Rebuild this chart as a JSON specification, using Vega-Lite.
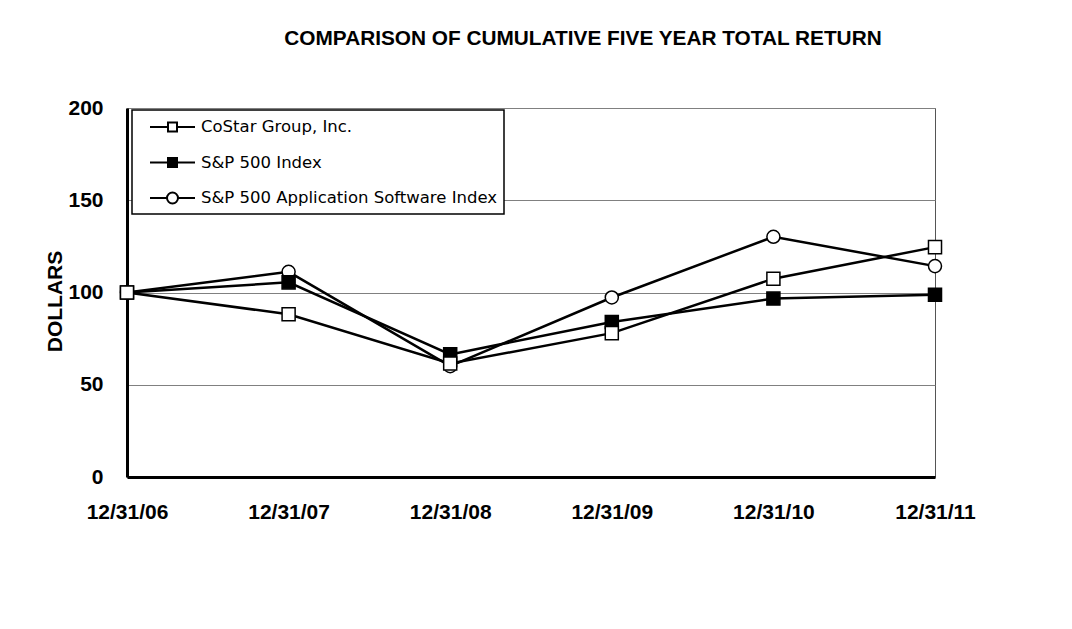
{
  "$schema": "https://vega.github.io/schema/vega-lite/v6.json",
  "width": 808,
  "height": 369,
  "autosize": "none",
  "padding": {"left": 127, "top": 108, "right": 137, "bottom": 152},
  "background": "white",
  "config": {
    "view": {"stroke": "#555555", "strokeWidth": 1},
    "font": "Liberation Sans"
  },
  "title": {
    "text": "COMPARISON OF CUMULATIVE FIVE YEAR TOTAL RETURN",
    "font": "Liberation Sans",
    "fontSize": 20.8,
    "fontWeight": "bold",
    "color": "black",
    "anchor": "middle",
    "frame": "group",
    "baseline": "alphabetic",
    "offset": 31,
    "dx": 52
  },
  "data": {
    "values": [
      {"date": "12/31/06", "series": "S&P 500 Application Software Index", "value": 100},
      {"date": "12/31/07", "series": "S&P 500 Application Software Index", "value": 111.2},
      {"date": "12/31/08", "series": "S&P 500 Application Software Index", "value": 60.1},
      {"date": "12/31/09", "series": "S&P 500 Application Software Index", "value": 97.3},
      {"date": "12/31/10", "series": "S&P 500 Application Software Index", "value": 130.2},
      {"date": "12/31/11", "series": "S&P 500 Application Software Index", "value": 114.3},
      {"date": "12/31/06", "series": "S&P 500 Index", "value": 100},
      {"date": "12/31/07", "series": "S&P 500 Index", "value": 105.49},
      {"date": "12/31/08", "series": "S&P 500 Index", "value": 66.46},
      {"date": "12/31/09", "series": "S&P 500 Index", "value": 84.05},
      {"date": "12/31/10", "series": "S&P 500 Index", "value": 96.71},
      {"date": "12/31/11", "series": "S&P 500 Index", "value": 98.75},
      {"date": "12/31/06", "series": "CoStar Group, Inc.", "value": 100},
      {"date": "12/31/07", "series": "CoStar Group, Inc.", "value": 88.2},
      {"date": "12/31/08", "series": "CoStar Group, Inc.", "value": 61.5},
      {"date": "12/31/09", "series": "CoStar Group, Inc.", "value": 77.99},
      {"date": "12/31/10", "series": "CoStar Group, Inc.", "value": 107.5},
      {"date": "12/31/11", "series": "CoStar Group, Inc.", "value": 124.6}
    ]
  },
  "encoding": {
    "x": {
      "field": "date",
      "type": "ordinal",
      "sort": ["12/31/06", "12/31/07", "12/31/08", "12/31/09", "12/31/10", "12/31/11"],
      "scale": {"type": "point", "padding": 0},
      "axis": {
        "title": null,
        "labelAngle": 0,
        "labelFont": "Liberation Sans",
        "labelFontSize": 21,
        "labelFontWeight": "bold",
        "labelColor": "black",
        "ticks": false,
        "tickSize": 0,
        "labelPadding": 24,
        "domainColor": "black",
        "domainWidth": 3,
        "grid": false
      }
    },
    "y": {
      "field": "value",
      "type": "quantitative",
      "scale": {"domain": [0, 200], "nice": false},
      "axis": {
        "values": [0, 50, 100, 150, 200],
        "title": "DOLLARS",
        "titleFont": "Liberation Sans",
        "titleFontSize": 21,
        "titleFontWeight": "bold",
        "titleColor": "black",
        "titleAngle": -90,
        "titleX": -72,
        "titleY": 193,
        "titleAlign": "center",
        "titleBaseline": "middle",
        "labelFont": "Liberation Sans",
        "labelFontSize": 21,
        "labelFontWeight": "bold",
        "labelColor": "black",
        "labelPadding": 24,
        "ticks": false,
        "tickSize": 0,
        "domainColor": "black",
        "domainWidth": 3,
        "grid": true,
        "gridColor": "#808080",
        "gridWidth": 1
      }
    }
  },
  "layer": [
    {
      "mark": {"type": "line", "color": "black", "strokeWidth": 2.5},
      "encoding": {"detail": {"field": "series"}}
    },
    {
      "mark": {"type": "point", "filled": true, "stroke": "black", "strokeWidth": 1.5, "opacity": 1, "size": 170},
      "encoding": {
        "shape": {
          "field": "series",
          "scale": {"domain": ["CoStar Group, Inc.", "S&P 500 Index", "S&P 500 Application Software Index"], "range": ["square", "square", "circle"]},
          "legend": null
        },
        "fill": {
          "field": "series",
          "scale": {"domain": ["CoStar Group, Inc.", "S&P 500 Index", "S&P 500 Application Software Index"], "range": ["white", "black", "white"]},
          "legend": null
        }
      }
    },
    {
      "transform": [{"filter": "false"}],
      "mark": {"type": "point", "filled": true, "stroke": "black", "strokeWidth": 2, "opacity": 1},
      "encoding": {
        "shape": {
          "field": "series",
          "scale": {
            "domain": ["CoStar Group, Inc.", "S&P 500 Index", "S&P 500 Application Software Index"],
            "range": [
              "M-2.25,0L-0.45,0M-0.45,-0.45L0.45,-0.45L0.45,0.45L-0.45,0.45ZM0.45,0L2.25,0",
              "M-2.25,0L-0.45,0M-0.45,-0.45L0.45,-0.45L0.45,0.45L-0.45,0.45ZM0.45,0L2.25,0",
              "M-2.25,0L-0.55,0M0.55,0A0.55,0.55,0,1,1,-0.55,0A0.55,0.55,0,1,1,0.55,0M0.55,0L2.25,0"
            ]
          },
          "legend": {
            "title": null,
            "orient": "none",
            "legendX": 5,
            "legendY": 2,
            "direction": "vertical",
            "strokeColor": "black",
            "fillColor": "white",
            "padding": 6,
            "symbolSize": 400,
            "symbolStrokeWidth": 2,
            "symbolStrokeColor": "black",
            "symbolOpacity": 1,
            "symbolOffset": 23.5,
            "labelOffset": 17.5,
            "labelFont": "DejaVu Sans",
            "labelFontSize": 16.5,
            "labelColor": "black",
            "labelLimit": 400,
            "rowPadding": 15.5,
            "encode": {
              "legend": {"update": {"strokeWidth": {"value": 1.5}}},
              "symbols": {"update": {"stroke": {"value": "black"}, "strokeWidth": {"value": 2}, "opacity": {"value": 1}}}
            }
          }
        },
        "fill": {
          "field": "series",
          "scale": {"domain": ["CoStar Group, Inc.", "S&P 500 Index", "S&P 500 Application Software Index"], "range": ["white", "black", "white"]},
          "legend": {
            "title": null,
            "orient": "none",
            "legendX": 5,
            "legendY": 2,
            "direction": "vertical",
            "strokeColor": "black",
            "fillColor": "white",
            "padding": 6,
            "symbolSize": 400,
            "symbolStrokeWidth": 2,
            "symbolStrokeColor": "black",
            "symbolOpacity": 1,
            "symbolOffset": 23.5,
            "labelOffset": 17.5,
            "labelFont": "DejaVu Sans",
            "labelFontSize": 16.5,
            "labelColor": "black",
            "labelLimit": 400,
            "rowPadding": 15.5,
            "encode": {
              "legend": {"update": {"strokeWidth": {"value": 1.5}}},
              "symbols": {"update": {"stroke": {"value": "black"}, "strokeWidth": {"value": 2}, "opacity": {"value": 1}}}
            }
          }
        }
      }
    }
  ],
  "resolve": {"scale": {"shape": "independent", "fill": "independent"}}
}
